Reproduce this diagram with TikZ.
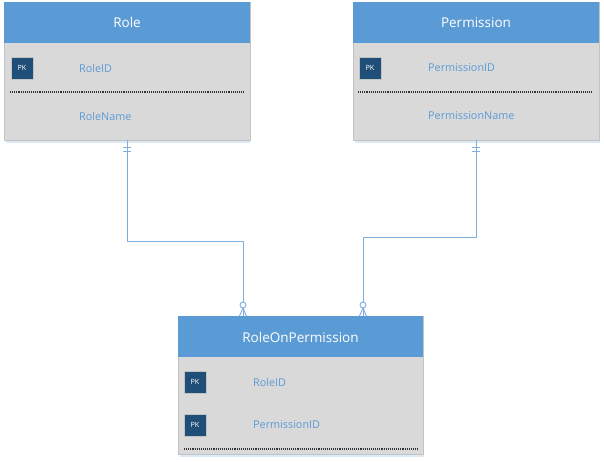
\documentclass[tikz,border=0pt]{standalone}
\usepackage{fontspec}
\setmainfont{Open Sans}
\usetikzlibrary{calc}
\definecolor{hdr}{HTML}{5B9BD5}
\definecolor{bodyc}{HTML}{D9D9D9}
\definecolor{edge}{HTML}{C3C3C3}
\definecolor{pkc}{HTML}{1F4E79}
\definecolor{fld}{HTML}{5B9BD5}
\definecolor{lnk}{HTML}{7DAEE0}
\definecolor{shad}{HTML}{DDE8F5}
\tikzset{
  x=1pt,y=-1pt,
  bodybox/.style={draw=edge,fill=bodyc,line width=0.8pt},
  title/.style={text=white,font=\fontsize{13.5}{16}\selectfont,anchor=center},
  field/.style={text=fld,font=\fontsize{10.8}{13}\selectfont,anchor=west,inner sep=0pt},
  pkbox/.style={draw=edge,fill=pkc,line width=0.6pt,minimum width=22pt,minimum height=22pt,inner sep=0pt,text=white,font=\fontsize{7.2}{8}\selectfont},
  sep/.style={densely dotted,line width=1.1pt,black!80},
  conn/.style={draw=lnk,line width=0.9pt},
  shadowln/.style={draw=shad,line width=2pt}
}
\begin{document}
\begin{tikzpicture}
\useasboundingbox (0,0) rectangle (604,462);
\fill[white] (0,0) rectangle (604,462);
% shadows
\draw[shadowln] (6,142) -- (250,142);
\draw[shadowln] (355,142) -- (600,142);
\draw[shadowln] (180,456) -- (424,456);
% Role
\path[bodybox] (4,2) rectangle (250,140);
\fill[hdr] (4,2) rectangle (250,43);
\coordinate (roleS) at (127,140);
\node[title] (roleT) at (127,22.5) {Role};
\node[pkbox] (rolePK) at (22,68) {PK};
\node[field] (roleF1) at (79,68) {RoleID};
\draw[sep] (10,92) -- (244,92);
\node[field] (roleF2) at (79,116) {RoleName};
% Permission
\path[bodybox] (353,2) rectangle (599,140);
\fill[hdr] (353,2) rectangle (599,43);
\coordinate (permS) at (476,140);
\node[title] (permT) at (476,22.5) {Permission};
\node[pkbox] (permPK) at (370,68) {PK};
\node[field] (permF1) at (428,68) {PermissionID};
\draw[sep] (358,92) -- (593,92);
\node[field] (permF2) at (428,116) {PermissionName};
% RoleOnPermission
\path[bodybox] (178,316) rectangle (423,454);
\fill[hdr] (178,316) rectangle (423,357);
\coordinate (ropA) at (243,316);
\coordinate (ropB) at (363,316);
\node[title] (ropT) at (300.5,337) {RoleOnPermission};
\node[pkbox] (ropPK1) at (195,382) {PK};
\node[field] (ropF1) at (253,382) {RoleID};
\node[pkbox] (ropPK2) at (195,425) {PK};
\node[field] (ropF2) at (253,425) {PermissionID};
\draw[sep] (184,449) -- (418,449);
% connector Role -> RoleOnPermission
\coordinate (c1) at (127,241);
\coordinate (c2) at (243,241);
\draw[conn] (roleS) -- (c1) -- (c2) -- ($(ropA)+(0,-14)$);
\draw[conn] ($(roleS)+(-4,7)$) -- ++(8,0);
\draw[conn] ($(roleS)+(-4,11)$) -- ++(8,0);
\draw[conn,fill=white] ($(ropA)+(0,-11)$) circle (3);
\draw[conn] ($(ropA)+(0,-8)$) -- ($(ropA)+(-3.5,0)$);
\draw[conn] ($(ropA)+(0,-8)$) -- (ropA);
\draw[conn] ($(ropA)+(0,-8)$) -- ($(ropA)+(3.5,0)$);
% connector Permission -> RoleOnPermission
\coordinate (d1) at (476,237);
\coordinate (d2) at (363,237);
\draw[conn] (permS) -- (d1) -- (d2) -- ($(ropB)+(0,-14)$);
\draw[conn] ($(permS)+(-4,7)$) -- ++(8,0);
\draw[conn] ($(permS)+(-4,11)$) -- ++(8,0);
\draw[conn,fill=white] ($(ropB)+(0,-11)$) circle (3);
\draw[conn] ($(ropB)+(0,-8)$) -- ($(ropB)+(-3.5,0)$);
\draw[conn] ($(ropB)+(0,-8)$) -- (ropB);
\draw[conn] ($(ropB)+(0,-8)$) -- ($(ropB)+(3.5,0)$);
\end{tikzpicture}
\end{document}
